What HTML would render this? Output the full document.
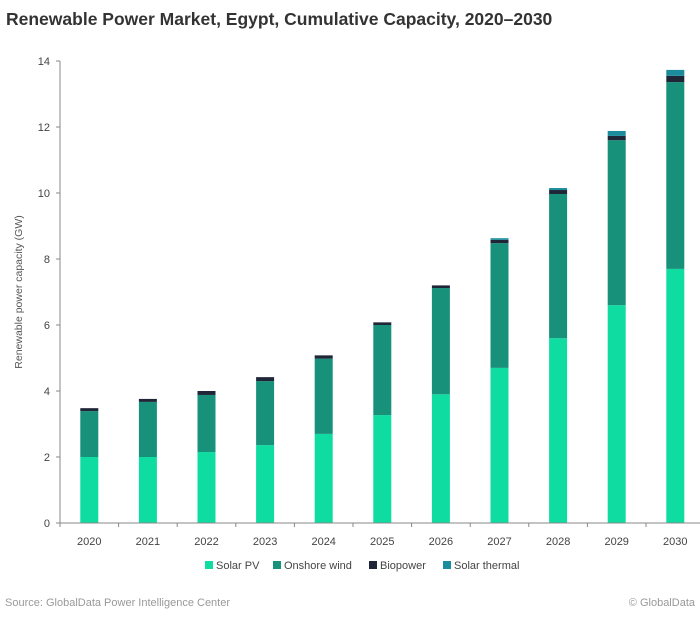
<!DOCTYPE html>
<html><head><meta charset="utf-8"><style>
body{margin:0;background:#fff;width:700px;height:612px;overflow:hidden;font-family:"Liberation Sans",sans-serif;}
svg text{font-family:"Liberation Sans",sans-serif;}
</style></head><body>
<svg id="chart" width="700" height="612" xmlns="http://www.w3.org/2000/svg">
<text x="6" y="25" font-size="17.5" font-weight="600" fill="#333">Renewable Power Market, Egypt, Cumulative Capacity, 2020–2030</text>
<text transform="translate(22,292) rotate(-90)" text-anchor="middle" font-size="10.5" fill="#555">Renewable power capacity (GW)</text>
<g id="plot"></g>
<g font-size="11" fill="#444">
<rect x="205" y="561" width="8" height="8" fill="#0fdca0"/><text x="216" y="569">Solar PV</text>
<rect x="273" y="561" width="8" height="8" fill="#17917a"/><text x="284" y="569">Onshore wind</text>
<rect x="369" y="561" width="8" height="8" fill="#1f2638"/><text x="380" y="569">Biopower</text>
<rect x="443" y="561" width="8" height="8" fill="#1a8c9c"/><text x="454" y="569">Solar thermal</text>
</g>
<text x="5" y="606" font-size="11" fill="#999">Source: GlobalData Power Intelligence Center</text>
<text x="695" y="606" font-size="11" fill="#999" text-anchor="end">© GlobalData</text>
</svg>
<script>
const years=["2020","2021","2022","2023","2024","2025","2026","2027","2028","2029","2030"];
const solarPV=[2.0,2.0,2.15,2.36,2.7,3.27,3.9,4.7,5.6,6.6,7.7];
const onshoreWind=[1.39,1.67,1.73,1.94,2.28,2.73,3.22,3.78,4.37,5.0,5.66];
const biopower=[0.09,0.09,0.12,0.12,0.1,0.08,0.08,0.1,0.12,0.13,0.19];
const solarThermal=[0,0,0,0,0,0,0,0.05,0.06,0.15,0.18];
const yTicks=[0,2,4,6,8,10,12,14];
const x0=60,x1=704.6,y0=523,yTop=61,yMax=14;
const band=(x1-x0)/years.length;
const y=v=>y0-(v/yMax)*(y0-yTop);
const xc=i=>x0+band*(i+0.5);
const ns="http://www.w3.org/2000/svg";
const g=document.getElementById('plot');
function mk(t,a){const e=document.createElementNS(ns,t);for(const k in a)e.setAttribute(k,a[k]);g.appendChild(e);return e;}
let ax=mk('line',{x1:x0,y1:yTop,x2:x0,y2:y0,stroke:'#888','stroke-width':1});


yTicks.forEach(t=>{
 let l=mk('line',{x1:x0-4,x2:x0,y1:y(t),y2:y(t),stroke:'#888'});
 
 
 let tx=mk('text',{x:x0-10,y:y(t)+4,'text-anchor':'end','font-size':11,fill:'#444'});
 tx.textContent=t;
 
 
});
const series=[[solarPV,'#0fdca0','solar-pv'],[onshoreWind,'#17917a','onshore-wind'],[biopower,'#1f2638','biopower'],[solarThermal,'#1a8c9c','solar-thermal']];
const bw=18;
years.forEach((yr,i)=>{
 let base=0;
 series.forEach(([arr,col,nm])=>{
  const v=arr[i]; if(v<=0)return;
  let r=mk('rect',{x:xc(i)-bw/2,y:y(base+v),width:bw,height:y(base)-y(base+v),fill:col});
  
  
  base+=v;
 });
 let tx=mk('text',{x:xc(i),y:545,'text-anchor':'middle','font-size':11,fill:'#444'});
 tx.textContent=yr;
 
 
});
for(let i=0;i<=years.length;i++){
 let l=mk('line',{x1:x0+band*i,x2:x0+band*i,y1:y0,y2:y0+4,stroke:'#888'});
 
 
}
let xa=mk('line',{x1:x0,y1:y0,x2:700,y2:y0,stroke:'#888'});


</script>
</body></html>
